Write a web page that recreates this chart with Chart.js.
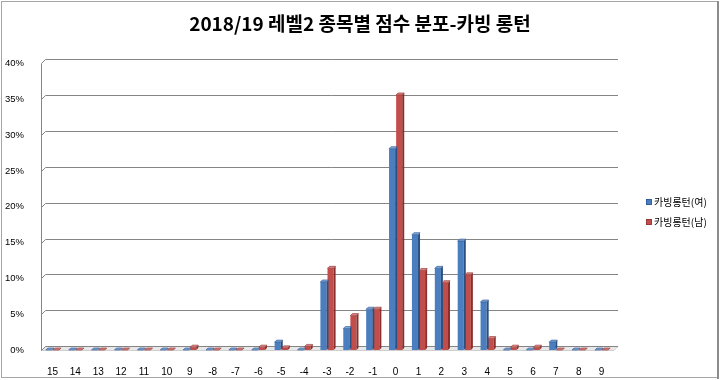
<!DOCTYPE html>
<html>
<head>
<meta charset="utf-8">
<script src="https://cdn.jsdelivr.net/npm/chart.js@4.4.1/dist/chart.umd.min.js"></script>
<style>
html,body{margin:0;padding:0;background:#fff;}
canvas{display:block;}
</style>
</head>
<body>
<canvas id="c" width="720" height="380"></canvas>
<script>
// ---- data ----
const categories = ['15','14','13','12','11','10','9','-8','-7','-6','-5','-4','-3','-2','-1','0','1','2','3','4','5','6','7','8','9'];
const femaleValues = [0,0,0,0,0,0,0,0,0,0,1.1,0,9.5,3.0,5.7,28.1,16.1,11.4,15.2,6.7,0,0,1.1,0,0];
const maleValues   = [0,0,0,0,0,0,0.4,0,0,0.4,0.3,0.5,11.4,4.8,5.7,35.6,11.1,9.4,10.5,1.6,0.4,0.4,0,0,0];
const seriesNames = ['카빙롱턴(여)','카빙롱턴(남)'];
const titleText = '2018/19 레벨2 종목별 점수 분포-카빙 롱턴';

const DX = 4, DY = 4, BD = 2;
const faceColors = [
  {front:'#4a7ebf', side:'#2a4f80', top:'#7fa6d8', edge:'#2d5690'},
  {front:'#c24e4b', side:'#8a2f2d', top:'#d98381', edge:'#8f3331'}
];

const deco = {
  id:'deco',
  beforeDraw(chart){
    const ctx = chart.ctx;
    ctx.save();
    ctx.fillStyle='#fff';
    ctx.fillRect(0,0,chart.width,chart.height);
    ctx.strokeStyle='#a6a6a6';
    ctx.lineWidth=1;
    ctx.strokeRect(1.5,1.5,716,376);
    ctx.strokeStyle='#8c8c8c';
    ctx.lineWidth=2;
    ctx.beginPath();ctx.moveTo(718,1);ctx.lineTo(718,379);ctx.stroke();
    ctx.restore();
  },
  beforeDatasetsDraw(chart){
    const {ctx, chartArea:a, scales:{y}} = chart;
    ctx.save();
    const b = Math.round(a.bottom)+0.5;
    ctx.fillStyle='#e8e8e8';
    ctx.beginPath();
    ctx.moveTo(a.left,b);ctx.lineTo(a.left+DX,b-DY);ctx.lineTo(a.right+DX+1,b-DY);ctx.lineTo(a.right+1,b);ctx.closePath();
    ctx.fill();
    ctx.strokeStyle='#cfcfcf';ctx.lineWidth=1;
    ctx.beginPath();ctx.moveTo(a.left,b);ctx.lineTo(a.right+1,b);ctx.lineTo(a.right+DX+1,b-DY);ctx.stroke();
    ctx.strokeStyle='#858585';
    y.ticks.forEach(t=>{
      const py = Math.round(y.getPixelForValue(t.value))+0.5;
      ctx.beginPath();
      ctx.moveTo(a.left+0.5,py);
      ctx.lineTo(a.left+DX+0.5,py-DY);
      ctx.lineTo(a.right+DX+1,py-DY);
      ctx.stroke();
    });
    const top = Math.round(y.getPixelForValue(y.max))+0.5;
    ctx.beginPath();ctx.moveTo(a.left+0.5,top);ctx.lineTo(a.left+0.5,b);ctx.stroke();
    ctx.restore();
  },
  afterDatasetsDraw(chart){
    const ctx = chart.ctx;
    ctx.save();
    chart.data.datasets.forEach((ds,i)=>{
      const meta = chart.getDatasetMeta(i);
      const c = faceColors[i];
      meta.data.forEach(el=>{
        const p = el.getProps(['x','y','base','width'],true);
        const l = p.x - p.width/2, r = p.x + p.width/2;
        ctx.fillStyle=c.side;
        ctx.beginPath();
        ctx.moveTo(r,p.y);ctx.lineTo(r+BD,p.y-BD);ctx.lineTo(r+BD,p.base-BD);ctx.lineTo(r,p.base);ctx.closePath();ctx.fill();
        ctx.fillStyle=c.top;
        ctx.beginPath();
        ctx.moveTo(l,p.y);ctx.lineTo(l+BD,p.y-BD);ctx.lineTo(r+BD,p.y-BD);ctx.lineTo(r,p.y);ctx.closePath();ctx.fill();
        ctx.strokeStyle=c.edge;ctx.lineWidth=0.6;ctx.stroke();
      });
    });
    ctx.restore();
  },
  afterDraw(chart){
    const ctx = chart.ctx;
    ctx.save();
    ctx.font = '10px "Noto Sans CJK KR", sans-serif';
    ctx.textBaseline = 'middle';
    ctx.textAlign = 'left';
    chart.data.datasets.forEach((ds,i)=>{
      const cy = 202 + i*20;
      ctx.fillStyle = faceColors[i].front;
      ctx.fillRect(646, cy-3, 6, 6);
      ctx.strokeStyle = faceColors[i].edge; ctx.lineWidth = 0.8;
      ctx.strokeRect(646.5, cy-2.5, 5, 5);
      ctx.fillStyle = '#000';
      ctx.fillText(ds.label, 654, cy);
    });
    ctx.restore();
  }
};

const makeGrad = (ctx, i) => {
  const el = ctx.element;
  const c = faceColors[i];
  if(!el || el.x===undefined || !isFinite(el.x)) return c.front;
  const w = el.width||6;
  const g = ctx.chart.ctx.createLinearGradient(el.x-w/2,0,el.x+w/2,0);
  if(i===0){g.addColorStop(0,'#6b9ad6');g.addColorStop(1,'#3d6fb0');}
  else {g.addColorStop(0,'#d0605d');g.addColorStop(1,'#b34542');}
  return g;
};

new Chart(document.getElementById('c'),{
  type:'bar',
  data:{
    labels:categories,
    datasets:[
      {label:seriesNames[0],data:femaleValues.map(v=>v/100),backgroundColor:c=>makeGrad(c,0),borderWidth:0,
       categoryPercentage:0.62,barPercentage:0.86},
      {label:seriesNames[1],data:maleValues.map(v=>v/100),backgroundColor:c=>makeGrad(c,1),borderWidth:0,
       categoryPercentage:0.62,barPercentage:0.86}
    ]
  },
  options:{
    responsive:false,
    animation:false,
    devicePixelRatio:1,
    layout:{padding:{left:0,right:0,top:0,bottom:0}},
    plugins:{
      title:{display:true,text:titleText,color:'#000',
        font:{family:'"Noto Sans CJK KR", "Noto Sans", sans-serif',size:19,weight:'bold'},
        padding:{top:12,bottom:28.6}},
      legend:{display:false},
      tooltip:{enabled:false}
    },
    scales:{
      x:{grid:{display:false},border:{display:false},
        ticks:{color:'#000',padding:8,autoSkip:false,maxRotation:0,font:{family:'"Liberation Sans", Arial, sans-serif',size:10}},
        afterFit:s=>{s.height=30;}},
      y:{min:0,max:0.4,grid:{display:false},border:{display:false},
        ticks:{stepSize:0.05,color:'#000',padding:9,font:{family:'"Liberation Sans", Arial, sans-serif',size:9.5},
          callback:v=>Math.round(v*100)+'%'},
        afterFit:s=>{s.width=41;}},
      yRight:{position:'right',min:0,max:0.4,grid:{display:false},border:{display:false},
        ticks:{display:false},afterFit:s=>{s.width=107;}}
    }
  },
  plugins:[deco]
});
</script>
</body>
</html>
